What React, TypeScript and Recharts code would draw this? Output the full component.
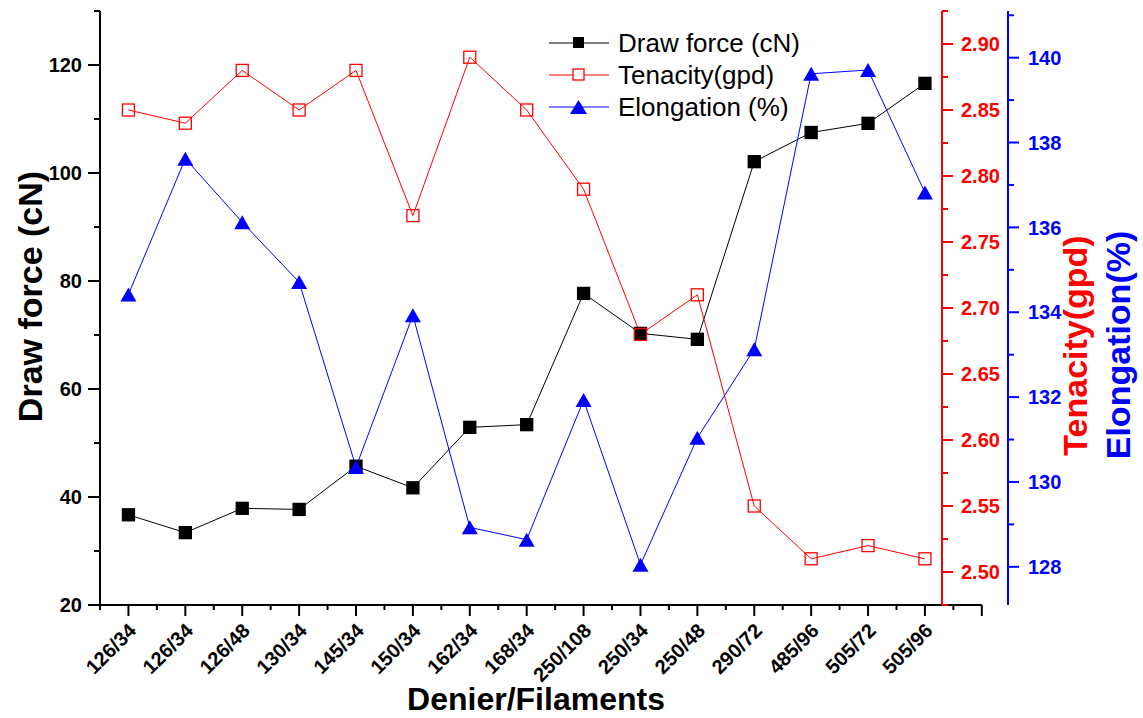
import { LineChart, Line, XAxis, YAxis, Legend, ReferenceLine } from 'recharts';

const categories = ['126/34', '126/34', '126/48', '130/34', '145/34', '150/34', '162/34', '168/34', '250/108', '250/34', '250/48', '290/72', '485/96', '505/72', '505/96'];
const drawForce = [36.7, 33.4, 37.9, 37.7, 45.7, 41.7, 52.9, 53.4, 77.7, 70.3, 69.2, 102.1, 107.5, 109.2, 116.6];
const tenacity = [2.85, 2.84, 2.88, 2.85, 2.88, 2.77, 2.89, 2.85, 2.79, 2.68, 2.71, 2.55, 2.51, 2.52, 2.51];
const elongation = [134.42, 137.62, 136.12, 134.71, 130.35, 133.93, 128.93, 128.64, 131.93, 128.05, 131.04, 133.13, 139.62, 139.71, 136.82];

const seriesNames = ['Draw force (cN)', 'Tenacity(gpd)', 'Elongation (%)'];
const axisTitles = ['Draw force (cN)', 'Tenacity(gpd)', 'Elongation(%)', 'Denier/Filaments'];

const leftTicks = [20, 30, 40, 50, 60, 70, 80, 90, 100, 110, 120, 130];
const redTicks = Array.from({ length: 19 }, (_, k) => Math.round((2.475 + k * 0.025) * 1000) / 1000);
const blueTicks = [128, 129, 130, 131, 132, 133, 134, 135, 136, 137, 138, 139, 140, 141];
const xTicks = Array.from({ length: 32 }, (_, k) => 0.5 + k * 0.5);

const chartData = categories.map((c, i) => ({
  x: i + 1,
  name: c,
  drawForce: drawForce[i],
  tenacity: tenacity[i],
  elongation: elongation[i],
}));

const FONT = '"Liberation Sans", Arial, sans-serif';
const RED = '#ff0000';
const BLUE = '#0000ff';

const LeftTick = (props: any) => {
  const { x, y, payload } = props;
  const v = payload.value;
  const major = v % 20 === 0;
  return (
    <g>
      <line x1={x} x2={x - (major ? 12 : 6)} y1={y} y2={y} stroke="#000" strokeWidth={2} />
      {major && (
        <text x={x - 18} y={y} dy="0.36em" textAnchor="end" fontSize={20} fontWeight="bold" fontFamily={FONT} fill="#000">
          {v}
        </text>
      )}
    </g>
  );
};

const RedTick = (props: any) => {
  const { x, y, payload } = props;
  const v = payload.value;
  const major = Math.round(v * 1000) % 50 === 0;
  return (
    <g>
      <line x1={x} x2={x + (major ? 11 : 6)} y1={y} y2={y} stroke={RED} strokeWidth={2} />
      {major && (
        <text x={x + 19} y={y} dy="0.36em" textAnchor="start" fontSize={20} fontWeight="bold" fontFamily={FONT} fill={RED}>
          {v.toFixed(2)}
        </text>
      )}
    </g>
  );
};

const BlueTick = (props: any) => {
  const { x, y, payload } = props;
  const v = payload.value;
  const major = v % 2 === 0;
  return (
    <g>
      <line x1={x} x2={x + (major ? 11 : 6)} y1={y} y2={y} stroke={BLUE} strokeWidth={2} />
      {major && (
        <text x={x + 20} y={y} dy="0.36em" textAnchor="start" fontSize={20} fontWeight="bold" fontFamily={FONT} fill={BLUE}>
          {v}
        </text>
      )}
    </g>
  );
};

const XTick = (props: any) => {
  const { x, y, payload } = props;
  const v = payload.value;
  const major = Number.isInteger(v);
  const label = major ? categories[v - 1] : undefined;
  const ax = x + 9;
  const ay = y + 27;
  return (
    <g>
      <line x1={x} x2={x} y1={y} y2={y + (major ? 11 : 5)} stroke="#000" strokeWidth={2} />
      {label && (
        <text x={ax} y={ay} textAnchor="end" transform={`rotate(-45 ${ax} ${ay})`} fontSize={20} fontWeight="bold" fontFamily={FONT} fill="#000">
          {label}
        </text>
      )}
    </g>
  );
};

const YTitle = (props: any) => {
  const { viewBox, title, color, ox, oy } = props;
  const tx = viewBox.x + ox;
  const ty = viewBox.y + viewBox.height / 2 + oy;
  return (
    <text x={tx} y={ty} textAnchor="middle" transform={`rotate(-90 ${tx} ${ty})`} fontSize={34} fontWeight="bold" fontFamily={FONT} fill={color}>
      {title}
    </text>
  );
};

const XTitle = (props: any) => {
  const { viewBox } = props;
  return (
    <text x={viewBox.x + viewBox.width / 2 + 15} y={viewBox.y + 105} textAnchor="middle" fontSize={32} fontWeight="bold" fontFamily={FONT} fill="#000">
      {axisTitles[3]}
    </text>
  );
};

const squareDot = (fill: string, stroke: string) => (p: any) => {
  if (p.cx == null || p.cy == null) return <g key={p.index} />;
  return <rect key={p.index} x={p.cx - 6} y={p.cy - 6} width={12} height={12} fill={fill} stroke={stroke} strokeWidth={1.3} />;
};

const triangleDot = (p: any) => {
  if (p.cx == null || p.cy == null) return <g key={p.index} />;
  const { cx, cy } = p;
  return <polygon key={p.index} points={`${cx},${cy - 7} ${cx + 8},${cy + 7} ${cx - 8},${cy + 7}`} fill={BLUE} stroke="none" />;
};

const LegendMark = ({ kind, color }: { kind: number; color: string }) => (
  <svg width={60} height={32} style={{ display: 'block' }}>
    <line x1={0} x2={60} y1={16} y2={16} stroke={color} strokeWidth={1} />
    {kind === 0 && <rect x={24} y={10} width={11} height={11} fill="#000" />}
    {kind === 1 && <rect x={24} y={10} width={11} height={11} fill="#fff" stroke={RED} strokeWidth={1.3} />}
    {kind === 2 && <polygon points="29.5,9 38,23 21,23" fill={BLUE} />}
  </svg>
);

const LegendBox = () => {
  const colors = ['#000', RED, BLUE];
  return (
    <div style={{ fontFamily: FONT, fontSize: 26, color: '#000' }}>
      {seriesNames.map((n, i) => (
        <div key={n} style={{ display: 'flex', alignItems: 'center', height: 32 }}>
          <LegendMark kind={i} color={colors[i]} />
          <span style={{ marginLeft: 9, lineHeight: '32px', whiteSpace: 'nowrap' }}>{n}</span>
        </div>
      ))}
    </div>
  );
};

export default function App() {
  return (
    <div style={{ position: 'absolute', left: 0, top: 0, fontFamily: FONT, background: '#fff' }}>
      <LineChart width={1143} height={718} data={chartData} margin={{ top: 11, right: 0, bottom: 0, left: 0 }}>
        <XAxis
          dataKey="x"
          type="number"
          domain={[0.5, 15.3]}
          allowDataOverflow
          ticks={xTicks}
          interval={0}
          tick={<XTick />}
          tickLine={false}
          tickSize={0}
          tickMargin={0}
          axisLine={{ stroke: '#000', strokeWidth: 2 }}
          height={113}
          label={<XTitle />}
        />
        <YAxis
          yAxisId="left"
          orientation="left"
          width={100}
          domain={[20, 130]}
          ticks={leftTicks}
          interval={0}
          tick={<LeftTick />}
          tickLine={false}
          tickSize={0}
          tickMargin={0}
          axisLine={{ stroke: '#000', strokeWidth: 2 }}
          label={<YTitle title={axisTitles[0]} color="#000" ox={42} oy={-11.5} />}
        />
        <YAxis
          yAxisId="b_elo"
          orientation="right"
          width={135}
          domain={[127.1, 141.1]}
          allowDataOverflow
          ticks={blueTicks}
          interval={0}
          tick={<BlueTick />}
          tickLine={false}
          tickSize={0}
          tickMargin={0}
          axisLine={{ stroke: BLUE, strokeWidth: 2 }}
          label={<YTitle title={axisTitles[2]} color={BLUE} ox={122} oy={37} />}
        />
        <YAxis
          yAxisId="a_ten"
          orientation="right"
          width={66}
          domain={[2.475, 2.925]}
          allowDataOverflow
          ticks={redTicks}
          interval={0}
          tick={<RedTick />}
          tickLine={false}
          tickSize={0}
          tickMargin={0}
          axisLine={{ stroke: RED, strokeWidth: 2 }}
          label={<YTitle title={axisTitles[1]} color={RED} ox={145} oy={37.5} />}
        />
        <ReferenceLine
          yAxisId="left"
          segment={[{ x: 15.3, y: 20 }, { x: 16, y: 20 }]}
          stroke="#000"
          strokeWidth={2}
          ifOverflow="visible"
        />
        <Legend
          layout="vertical"
          align="center"
          verticalAlign="middle"
          content={<LegendBox />}
          wrapperStyle={{ left: 549, top: 27, width: 300 }}
        />
        <Line
          yAxisId="left"
          dataKey="drawForce"
          name={seriesNames[0]}
          stroke="#000"
          strokeWidth={1}
          dot={squareDot('#000', '#000')}
          activeDot={false}
          isAnimationActive={false}
        />
        <Line
          yAxisId="a_ten"
          dataKey="tenacity"
          name={seriesNames[1]}
          stroke={RED}
          strokeWidth={1}
          dot={squareDot('none', RED)}
          activeDot={false}
          isAnimationActive={false}
        />
        <Line
          yAxisId="b_elo"
          dataKey="elongation"
          name={seriesNames[2]}
          stroke={BLUE}
          strokeWidth={1}
          dot={triangleDot}
          activeDot={false}
          isAnimationActive={false}
        />
      </LineChart>
    </div>
  );
}
